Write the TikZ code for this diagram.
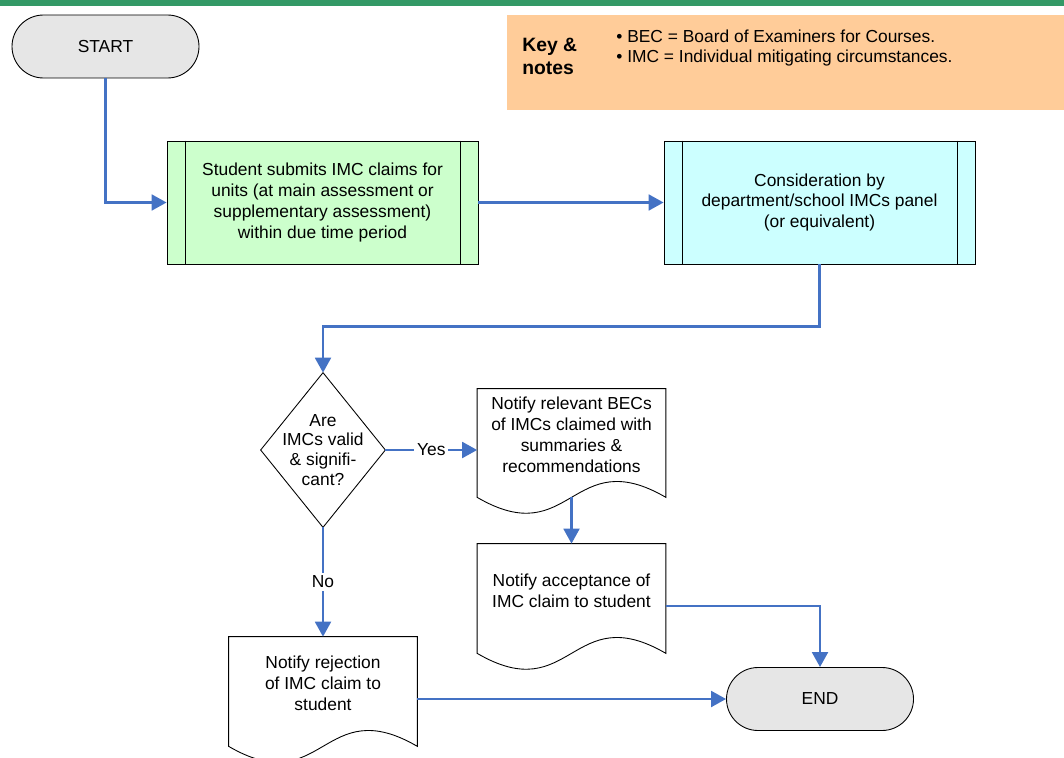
\documentclass[tikz,border=0pt]{standalone}
\usepackage{fontspec}
\setmainfont{Liberation Sans}
\usetikzlibrary{shapes.misc,arrows.meta,calc}

\definecolor{topbar}{HTML}{339966}
\definecolor{termfill}{HTML}{E6E6E6}
\definecolor{keyfill}{HTML}{FFCC99}
\definecolor{procgreen}{HTML}{CCFFCC}
\definecolor{proccyan}{HTML}{CCFFFF}
\definecolor{flow}{HTML}{4472C4}

\tikzset{
  txt/.style={font=\fontsize{9.9}{11.9}\selectfont, align=center, inner sep=0pt},
  terminal/.style={rounded rectangle, draw=black, line width=0.5pt, fill=termfill,
    minimum width=187*0.02cm, minimum height=63*0.02cm, inner sep=0pt, txt},
  predef/.style={rectangle, draw=black, line width=0.5pt,
    minimum width=311*0.02cm, minimum height=123*0.02cm, inner sep=0pt, txt},
  docbox/.style={rectangle, draw=none, minimum width=188*0.02cm, inner sep=0pt},
  docline/.style={draw=black, line width=0.5pt, fill=white},
  conn/.style={draw=flow, line width=1.4pt,
    -{Triangle[length=8.5pt,width=9pt]}},
  lbl/.style={txt, fill=white, inner sep=1.5pt},
}

% outline of a document symbol around a named node: straight top and sides,
% wavy bottom edge running along the node's south side
\newcommand\docoutline[1]{%
  \path[docline] (#1.south west) -- (#1.north west) -- (#1.north east) -- (#1.south east)
    .. controls ($(#1.south)+(0,-55)$) and ($(#1.south)+(0,55)$) .. (#1.south west) -- cycle;}
% side bars of a predefined-process box
\newcommand\predefbars[1]{%
  \draw[line width=0.5pt] ($(#1.north west)+(19,0)$) -- ($(#1.south west)+(19,0)$);
  \draw[line width=0.5pt] ($(#1.north east)+(-18,0)$) -- ($(#1.south east)+(-18,0)$);}

\begin{document}
\begin{tikzpicture}[x=0.02cm,y=-0.02cm]
\useasboundingbox (0,0) rectangle (1064,757);

% header strip
\fill[topbar] (0,0) rectangle (1064,6);

% key and notes panel
\node[rectangle, fill=keyfill, minimum width=557*0.02cm, minimum height=95*0.02cm,
      anchor=north west, inner sep=0pt] (key) at (507,15) {};
\node[anchor=west, align=left, inner sep=0pt,
      font=\fontsize{11}{13}\selectfont\bfseries] (keyhead) at (522,56) {Key \&\\notes};
\node[anchor=west, align=left, inner sep=0pt,
      font=\fontsize{9.9}{11.3}\selectfont] (keybody) at (616,48)
  {• BEC = Board of Examiners for Courses.\\• IMC = Individual mitigating circumstances.};

% terminals
\node[terminal] (start) at (105.5,46.5) {START};
\node[terminal] (end) at (820,699) {END};

% predefined processes
\node[predef, fill=procgreen] (submit) at (322.5,202.5)
  {Student submits IMC claims for\\units (at main assessment or\\supplementary assessment)\\within due time period};
\predefbars{submit}
\node[predef, fill=proccyan] (panel) at (819.5,202.5)
  {Consideration by\\department/school IMCs panel\\(or equivalent)};
\predefbars{panel}

% decision
\node[rectangle, minimum width=124*0.02cm, minimum height=154*0.02cm, inner sep=0pt,
      txt, font=\fontsize{9.9}{11.3}\selectfont] (valid) at (323,450)
  {Are\\IMCs valid\\\& signifi-\\cant?};
\draw[line width=0.5pt] (valid.north) -- (valid.east) -- (valid.south) -- (valid.west) -- cycle;

% documents
\node[docbox, minimum height=108*0.02cm] (notifybec) at (571.5,443) {};
\docoutline{notifybec}
\node[txt] (notifybectext) at (571.5,434.5)
  {Notify relevant BECs\\of IMCs claimed with\\summaries \&\\recommendations};

\node[docbox, minimum height=109*0.02cm] (accept) at (571.5,598.5) {};
\docoutline{accept}
\node[txt] (accepttext) at (571.5,591)
  {Notify acceptance of\\IMC claim to student};

\node[docbox, minimum height=109*0.02cm] (reject) at (323,691.5) {};
\docoutline{reject}
\node[txt] (rejecttext) at (323,683.5)
  {Notify rejection\\of IMC claim to\\student};

% connectors
\draw[conn] (start.south) |- (submit.west);
\draw[conn] (submit.east) -- (panel.west);
\draw[conn] (panel.south) -- ++(0,62) -| (valid.north);
\draw[conn] (valid.east) -- node[lbl] (yes) {Yes} (valid.east -| notifybec.west);
\draw[conn] (notifybec.south) -- (accept.north);
\draw[conn] (valid.south) -- node[lbl, pos=0.5] (no) {No} (reject.north);
\draw[conn] ($(accept.east)+(0,7.5)$) -| (end.north);
\draw[conn] (reject.east |- end.west) -- (end.west);
\end{tikzpicture}
\end{document}
